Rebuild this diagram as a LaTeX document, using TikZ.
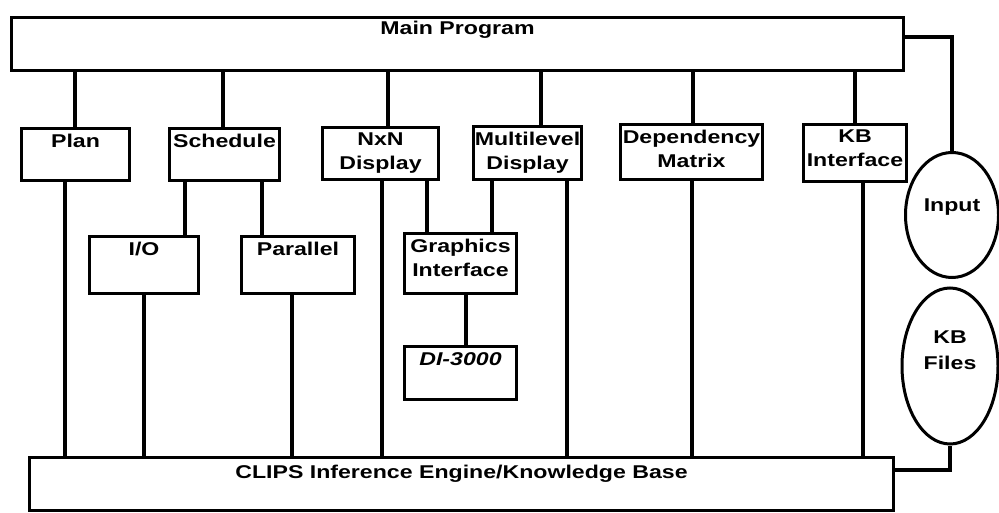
\documentclass[tikz,border=0pt]{standalone}
\usepackage{fontspec}
\newfontfamily\lblfont[FakeStretch=1.25]{Liberation Sans}
\usetikzlibrary{shapes, positioning}

\tikzset{
  blk/.style={draw, line width=3pt, inner sep=0pt, anchor=north west},
  lbl/.style={anchor=north, align=center, inner sep=7pt, font={\lblfont\bfseries\fontsize{18.5}{24}\selectfont}},
  conn/.style={line width=3.4pt},
  store/.style={draw, ellipse, line width=3pt, align=center, font={\lblfont\bfseries\fontsize{18.5}{26}\selectfont}},
}

\begin{document}
\begin{tikzpicture}[x=1pt, y=-1pt]
\useasboundingbox (0,0) rectangle (999,513);

% Main program and inference engine
\node[blk, minimum width=892pt, minimum height=53pt, label={[lbl, inner sep=5pt]north:Main Program}] (main) at (10,16) {};
\node[blk, minimum width=864pt, minimum height=53pt, label={[lbl, inner sep=9pt]north:CLIPS Inference Engine/Knowledge Base}] (clips) at (28,456) {};

% Modules
\node[blk, minimum width=108pt, minimum height=52pt, label={[lbl]north:Plan}] (plan) at (20,127) {};
\node[blk, minimum width=110pt, minimum height=52pt, label={[lbl]north:Schedule}] (sched) at (168,127) {};
\node[blk, minimum width=116pt, minimum height=52pt, label={[lbl]north:NxN\\Display}] (nxn) at (321,126) {};
\node[blk, minimum width=108pt, minimum height=53pt, label={[lbl]north:Multilevel\\Display}] (multi) at (472,125) {};
\node[blk, minimum width=142pt, minimum height=55pt, label={[lbl]north:Dependency\\Matrix}] (dep) at (619,123) {};
\node[blk, minimum width=103pt, minimum height=57pt, label={[lbl]north:KB\\Interface}] (kbi) at (802,123) {};

% Lower modules
\node[blk, minimum width=109pt, minimum height=57pt, label={[lbl]north:I/O}] (io) at (88,235) {};
\node[blk, minimum width=113pt, minimum height=57pt, label={[lbl]north:Parallel}] (par) at (240,235) {};
\node[blk, minimum width=112pt, minimum height=60pt, label={[lbl]north:Graphics\\Interface}] (gfx) at (403,232) {};
\node[blk, minimum width=112pt, minimum height=53pt, label={[lbl]north:\textit{DI-3000}}] (di) at (403,345) {};

% Files
\node[store, minimum width=93pt, minimum height=125pt, text depth=20pt] (inp) at (952,215) {Input};
\node[store, minimum width=96pt, minimum height=156pt, text depth=32pt] (kbf) at (950,366) {KB\\Files};

% Connections
\foreach \x/\b in {75/plan, 223/sched, 388/nxn, 541/multi, 693/dep, 855/kbi}
  \draw[conn] (\x,0 |- main.south) -- (\x,0 |- \b.north);
\foreach \x/\a/\b in {65/plan/clips, 185/sched/io, 262/sched/par, 144/io/clips, 292/par/clips, 382/nxn/clips, 427/nxn/gfx, 492/multi/gfx, 567/multi/clips, 466/gfx/di, 692/dep/clips, 863/kbi/clips}
  \draw[conn] (\x,0 |- \a.south) -- (\x,0 |- \b.north);

\draw[conn] (main.east |- 0,37) -| (inp.north);
\draw[conn] (kbf.south) |- (clips.east |- 0,470);
\end{tikzpicture}
\end{document}
